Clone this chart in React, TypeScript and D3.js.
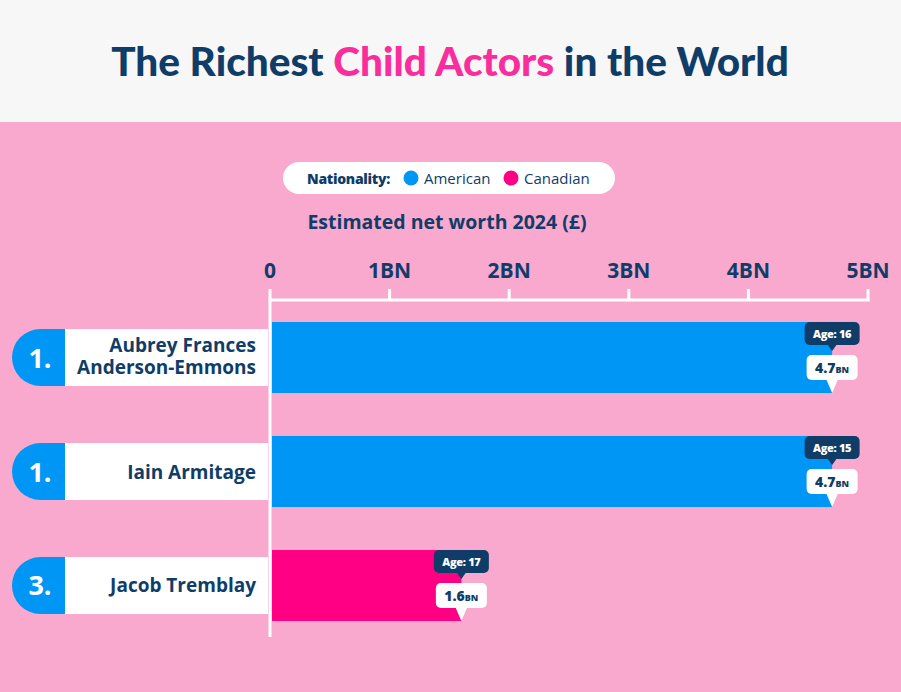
import React from "react";
import * as d3 from "d3";

const ranks = ["1.", "1.", "3."];
const names = [["Aubrey Frances", "Anderson-Emmons"], ["Iain Armitage"], ["Jacob Tremblay"]];
const worth = [4.7, 4.7, 1.6];
const ages = [16, 15, 17];
const nationality = ["American", "American", "Canadian"];
const tickValues = [0, 1, 2, 3, 4, 5];

const NAVY = "#0f3d68";
const BLUE = "#0096f6";
const PINK = "#ff0084";
const TITLE_PINK = "#fb2c9c";
const BG = "#f9a8ce";
const FONT = "'Open Sans', Lato, sans-serif";
const TITLE_FONT = "Lato, 'Open Sans', sans-serif";

const colour = d3.scaleOrdinal<string, string>().domain(["American", "Canadian"]).range([BLUE, PINK]);
const x = d3.scaleLinear().domain([0, 5]).range([270, 868]);
const y = d3.scaleBand<number>().domain(d3.range(ranks.length)).range([322, 621]).paddingInner(0.377).paddingOuter(0);

const Tooltip = (props: { cx: number; top: number; age: number; value: number }) => {
	const { cx, top, age, value } = props;
	const ageW = 55, valW = 51;
	return (
		<g>
			<path d={`M${cx - 5},${top + 22} L${cx},${top + 29} L${cx + 5},${top + 22} Z`} fill={NAVY} />
			<rect x={cx - ageW / 2} y={top} width={ageW} height={23} rx={5} fill={NAVY} />
			<text x={cx} y={top + 16} textAnchor="middle" fill="#fff" fontSize={11} fontWeight={800} fontFamily={FONT} letterSpacing={-0.3}>
				{`Age: ${age}`}
			</text>
			<rect x={cx - valW / 2} y={top + 33} width={valW} height={25} rx={5} fill="#fff" />
			<path d={`M${cx - 6},${top + 57} L${cx},${top + 71} L${cx + 6},${top + 57} Z`} fill="#fff" />
			<text x={cx} y={top + 51} textAnchor="middle" fill={NAVY} fontSize={14} fontWeight={800} fontFamily={FONT}>
				{value.toFixed(1)}
				<tspan fontSize={9}>BN</tspan>
			</text>
		</g>
	);
};

export default function App() {
	const bh = y.bandwidth();
	return (
		<svg width={901} height={692} style={{ position: "absolute", left: 0, top: 0 }}>
			<rect x={0} y={0} width={901} height={122} fill="#f7f7f7" />
			<rect x={0} y={122} width={901} height={570} fill={BG} />
			<text x={450} y={76} textAnchor="middle" fontSize={40.5} fontWeight={900} fontFamily={TITLE_FONT} fill={NAVY}>
				The Richest <tspan fill={TITLE_PINK}>Child Actors</tspan> in the World
			</text>

			{/* legend */}
			<rect x={283} y={162} width={332} height={32} rx={16} fill="#fff" />
			<text x={307} y={184} fontSize={14} fontWeight={800} fill={NAVY} fontFamily={FONT} letterSpacing={-0.3}>Nationality:</text>
			{colour.domain().map((d, i) => (
				<g key={d}>
					<circle cx={411 + i * 100} cy={178} r={7.5} fill={colour(d)} />
					<text x={424 + i * 100} y={184} fontSize={15} fontWeight={500} fill={NAVY} fontFamily={FONT}>{d}</text>
				</g>
			))}

			<text x={447} y={229} textAnchor="middle" fontSize={19.5} fontWeight={700} fill={NAVY} fontFamily={FONT}>
				Estimated net worth 2024 (£)
			</text>

			{/* axis */}
			{tickValues.map((t) => (
				<g key={t}>
					<text x={x(t)} y={278} textAnchor="middle" fontSize={21} fontWeight={700} fill={NAVY} fontFamily={FONT}>
						{t === 0 ? "0" : `${t}BN`}
					</text>
					<line x1={x(t)} x2={x(t)} y1={289} y2={301} stroke="#fff" strokeWidth={3} />
				</g>
			))}
			<line x1={x(0)} x2={x(5) + 1.5} y1={300} y2={300} stroke="#fff" strokeWidth={3} />

			{/* rows */}
			{worth.map((v, i) => {
				const top = y(i) as number;
				const capTop = top + 7, capH = bh - 14;
				const r = capH / 2;
				const lines = names[i];
				const firstY = capTop + r + 7 - ((lines.length - 1) / 2) * 22 - (lines.length > 1 ? 1.5 : 0);
				return (
					<g key={i}>
						<rect x={65} y={capTop} width={203} height={capH} fill="#fff" />
						<path
							d={`M65,${capTop} L${12 + r},${capTop} A${r},${r} 0 0 0 ${12 + r},${capTop + capH} L65,${capTop + capH} Z`}
							fill={BLUE}
						/>
						<text x={40} y={capTop + r + 10} textAnchor="middle" fontSize={27} fontWeight={700} fill="#fff" fontFamily={FONT}>
							{ranks[i]}
						</text>
						<text textAnchor="end" fontSize={19} fontWeight={700} fill={NAVY} fontFamily={FONT}>
							{lines.map((n, j) => (
								<tspan key={j} x={256} y={firstY + j * 22}>
									{n}
								</tspan>
							))}
						</text>
						<rect x={x(0) + 2} y={top} width={x(v) - x(0) - 2} height={bh} fill={colour(nationality[i])} />
						<Tooltip cx={x(v)} top={top} age={ages[i]} value={v} />
					</g>
				);
			})}
			<line x1={x(0)} x2={x(0)} y1={298.5} y2={637} stroke="#fff" strokeWidth={3} />
		</svg>
	);
}
